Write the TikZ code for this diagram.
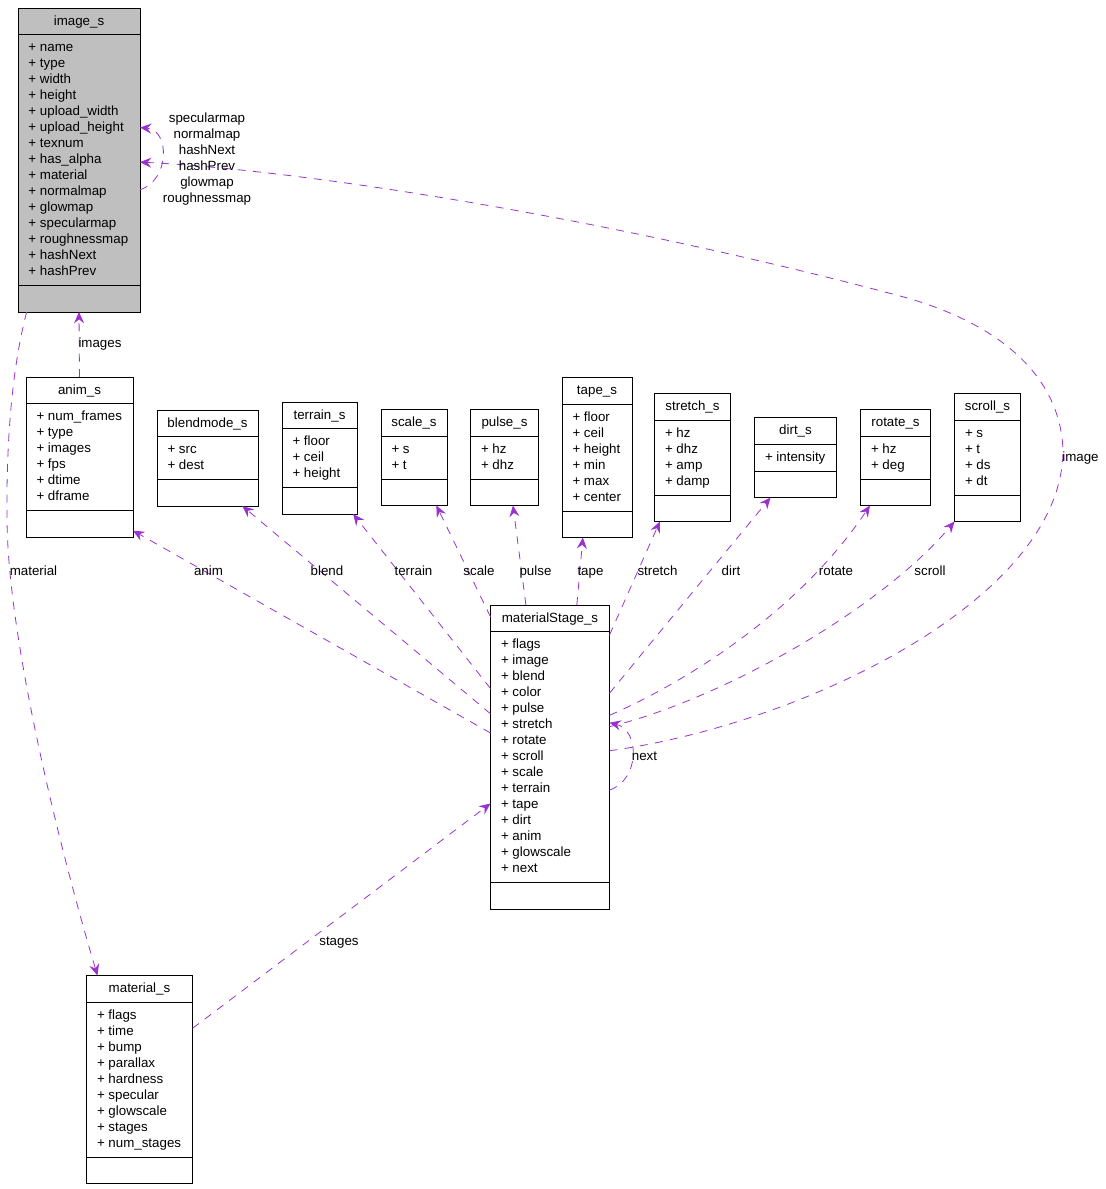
\documentclass[tikz,border=0pt]{standalone}
\usepackage{fontspec}
\setmainfont{Liberation Sans}
\usepackage{tikz}
\usetikzlibrary{arrows.meta}
\definecolor{edgepurple}{RGB}{154,50,205}
\definecolor{boxgrey}{RGB}{191,191,191}
\tikzset{every picture/.style={line width=0.75pt}}
\tikzset{
  classframe/.style={draw=black, inner sep=0pt, outer sep=0pt, anchor=north west},
  classtitle/.style={inner sep=0pt, anchor=base, font=\fontsize{10}{12}\selectfont},
  member/.style={inner sep=0pt, anchor=base west, font=\fontsize{10}{12}\selectfont},
  uses/.style={draw=edgepurple, line width=0.6pt, dash pattern=on 6pt off 5.5pt,
    -{Stealth[length=8.5pt, width=7.5pt, inset=3pt]}},
  lbl/.style={inner sep=0pt, anchor=base, font=\fontsize{10}{12}\selectfont},
}
% #1 extra style, #2 name, #3 left, #4 top, #5 width, #6 rows, #7 title, #8 members
\newcommand{\umlclass}[8][]{%
  \node[classframe, #1, minimum width=#5*0.75pt, minimum height={(16*#6+64)*0.75pt}] (#2) at (#3,#4) {};
  \node[classtitle] (#2-t) at (#3+#5/2,#4+17) {#7};
  \draw (#3,#4+26.5) -- ++(#5,0);
  \draw (#3,#4+37.5+16*#6) -- ++(#5,0);
  \foreach \m [count=\i] in {#8} \node[member] (#2-\i) at (#3+10,#4+27.5+16*\i) {+ \m};
}

\begin{document}
\begin{tikzpicture}[x=0.75pt,y=0.75pt,yscale=-1,xscale=1]
\useasboundingbox (0,0) rectangle (1106,1189);

%Shape: Class boxes
\umlclass[fill=boxgrey]{img}{18}{8}{122}{15}{image\_s}{name,type,width,height,upload\_width,upload\_height,texnum,has\_alpha,material,normalmap,glowmap,specularmap,roughnessmap,hashNext,hashPrev}
\umlclass{anim}{26}{377}{107}{6}{anim\_s}{num\_frames,type,images,fps,dtime,dframe}
\umlclass{blend}{157}{410}{101}{2}{blendmode\_s}{src,dest}
\umlclass{terr}{282}{402}{75}{3}{terrain\_s}{floor,ceil,height}
\umlclass{scale}{381}{409.5}{66}{2}{scale\_s}{s,t}
\umlclass{pulse}{470.5}{409.5}{68}{2}{pulse\_s}{hz,dhz}
\umlclass{tape}{562}{377.5}{70}{6}{tape\_s}{floor,ceil,height,min,max,center}
\umlclass{stretch}{654.5}{393.5}{76}{4}{stretch\_s}{hz,dhz,amp,damp}
\umlclass{dirt}{754.5}{417.5}{82}{1}{dirt\_s}{intensity}
\umlclass{rot}{860.5}{409.5}{70}{2}{rotate\_s}{hz,deg}
\umlclass{scroll}{954.5}{393.5}{66}{4}{scroll\_s}{s,t,ds,dt}
\umlclass{ms}{490.5}{605}{119}{15}{materialStage\_s}{flags,image,blend,color,pulse,stretch,rotate,scroll,scale,terrain,tape,dirt,anim,glowscale,next}
\umlclass{mat}{86.5}{975.5}{106}{9}{material\_s}{flags,time,bump,parallax,hardness,specular,glowscale,stages,num\_stages}

%Straight Lines
\draw[uses] (anim.north) -- (img.south);
\draw[uses] (mat.44) -- (ms.-142.3);
\draw[uses] (ms.158) -- (anim.-54.5);
\draw[uses] (ms.144.8) -- (blend.-54);
\draw[uses] (ms.131.6) -- (terr.-59);
\draw[uses] (ms.113) -- (scale.-65);
\draw[uses] (ms.99) -- (pulse.-80);
\draw[uses] (ms.80.7) -- (tape.-100);
\draw[uses] (ms.64) -- (stretch.-117);
\draw[uses] (ms.47.5) -- (dirt.-122.5);

%Curve Lines
\draw[uses] (ms.35) .. controls (690,680) and (800,610) .. (rot.-118);
\draw[uses] (ms.27.5) .. controls (720,700) and (880,610) .. (scroll.south west);
\draw[uses] (img.-109) .. controls (14,360) and (6,430) .. (7,520) .. controls (8,640) and (60,850) .. (mat.112);
\draw[uses] (ms.6.7) .. controls (800,725) and (1063,600) .. (1063,450) .. controls (1060,370) and (990,320) .. (900,296) .. controls (600,216) and (300,170) .. (img.-2);
\draw[uses] (img.-26) .. controls (170,180) and (170,130) .. (img.28);
\draw[uses] (ms.-29) .. controls (640,780) and (640,730) .. (ms.30);

%Edge labels
\node[lbl] (lImages) at (100,347.5) {images};
\node[lbl] (lMaterial) at (33.5,575) {material};
\node[lbl] (lAnim) at (208.5,575) {anim};
\node[lbl] (lBlend) at (327,575) {blend};
\node[lbl] (lTerrain) at (413.5,575) {terrain};
\node[lbl] (lScale) at (479,575) {scale};
\node[lbl] (lPulse) at (535.5,575) {pulse};
\node[lbl] (lTape) at (590.5,575) {tape};
\node[lbl] (lStretch) at (657.5,575) {stretch};
\node[lbl] (lDirt) at (731,575) {dirt};
\node[lbl] (lRotate) at (836,575) {rotate};
\node[lbl] (lScroll) at (930,575) {scroll};
\node[lbl] (lImage) at (1080.5,461) {image};
\node[lbl] (lNext) at (644.5,760) {next};
\node[lbl] (lStages) at (339,945) {stages};
\node[lbl, anchor=center, align=center] (lMaps) at (207,159.5) {specularmap\\normalmap\\hashNext\\hashPrev\\glowmap\\roughnessmap};
\end{tikzpicture}
\end{document}
